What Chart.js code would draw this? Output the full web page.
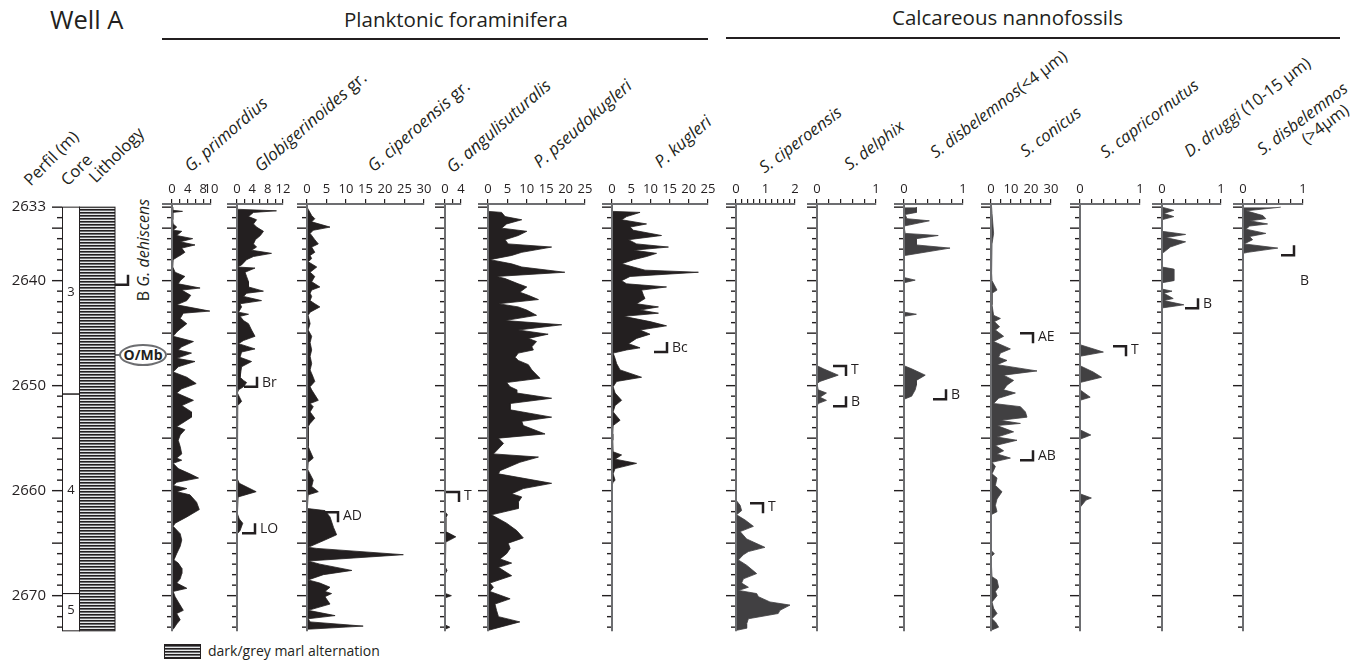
<!DOCTYPE html>
<html>
<head>
<meta charset="utf-8">
<script src="https://cdn.jsdelivr.net/npm/chart.js@4.4.0/dist/chart.umd.min.js"></script>
<style>
  body { margin: 0; background: #fff; }
  #page { position: relative; width: 1360px; height: 664px; overflow: hidden; font-family: 'Open Sans', sans-serif; color: #231f20; }
  #page canvas { position: absolute; }
  .t { position: absolute; white-space: nowrap; }
  .rh { position: absolute; white-space: nowrap; font-size: 17px; line-height: 18px; transform-origin: 0 14px; transform: rotate(-41deg); }
  .rh.nn { font-size: 16.5px; transform: rotate(-37deg); }
  .rh i { font-style: italic; }
  .rule { position: absolute; height: 0; border-top: 2px solid #231f20; }
</style>
</head>
<body>
<div id="page">
  <div class="t" style="left:50px;top:2px;font-size:25.5px;">Well A</div>
  <div class="t" style="left:344px;top:5px;font-size:20.5px;">Planktonic foraminifera</div>
  <div class="rule" style="left:162px;top:38px;width:546px;"></div>
  <div class="t" style="left:892px;top:3px;font-size:20.5px;">Calcareous nannofossils</div>
  <div class="rule" style="left:726px;top:37px;width:614px;"></div>

  <div class="rh" style="left:30px;top:172px;font-size:16.5px;transform:rotate(-45deg);">Perfil (m)</div>
  <div class="rh" style="left:67px;top:172px;font-size:16.5px;transform:rotate(-45deg);">Core</div>
  <div class="rh" style="left:95px;top:169px;font-size:16.5px;transform:rotate(-45deg);">Lithology</div>

  <div class="rh" style="left:190px;top:158px;"><i>G. primordius</i></div>
  <div class="rh" style="left:260px;top:158px;"><i>Globigerinoides</i> gr.</div>
  <div class="rh" style="left:373px;top:158px;"><i>G. ciperoensis</i> gr.</div>
  <div class="rh" style="left:452px;top:159px;"><i>G. angulisuturalis</i></div>
  <div class="rh" style="left:539px;top:154px;"><i>P. pseudokugleri</i></div>
  <div class="rh" style="left:660px;top:154px;"><i>P. kugleri</i></div>
  <div class="rh nn" style="left:764px;top:159px;"><i>S. ciperoensis</i></div>
  <div class="rh nn" style="left:849px;top:156px;"><i>S. delphix</i></div>
  <div class="rh nn" style="left:935px;top:144px;"><i>S. disbelemnos</i>(&lt;4 µm)</div>
  <div class="rh nn" style="left:1025px;top:143px;"><i>S. conicus</i></div>
  <div class="rh nn" style="left:1105px;top:144px;"><i>S. capricornutus</i></div>
  <div class="rh nn" style="left:1189px;top:143px;"><i>D. druggi</i> (10-15 µm)</div>
  <div class="rh nn" style="left:1262px;top:141px;"><i>S. disbelemnos</i><br><span style="display:inline-block;margin-left:42px;">(&gt;4µm)</span></div>

  <div class="t" style="left:143px;top:250px;font-size:16px;transform:translate(-50%,-50%) rotate(-90deg);">B <i>G. dehiscens</i></div>
  <div style="position:absolute;left:115px;top:354px;width:5px;border-top:2px solid #6d6e71;"></div>
  <div class="t" style="left:119px;top:344px;width:44px;height:18px;border:2px solid #6d6e71;border-radius:50%;font-size:14px;font-weight:bold;line-height:18px;text-align:center;">O/Mb</div>

  <div style="position:absolute;left:164px;top:644px;width:35px;height:13px;border:1px solid #231f20;background:repeating-linear-gradient(to bottom,#231f20 0px,#231f20 1px,#6d6e71 1px,#6d6e71 2px,#e6e7e8 2px,#e6e7e8 3px);"></div>
  <div class="t" style="left:208px;top:641px;font-size:14px;">dark/grey marl alternation</div>
</div>
<script>
// depth axis (m)
const depthLabels = [2633, 2640, 2650, 2660, 2670];
const coreNames = ['3', '4', '5'];
const coreTop = [2633.0, 2650.8, 2669.8];
const coreBase = [2650.8, 2669.8, 2673.35];
const coreLabelDepth = [2641.1, 2660.0, 2671.4];

// [depth (m), value] pairs
const primordius = [[2633.0,0],[2633.3,0.2],[2633.4,2.7],[2633.5,0.2],[2634.2,0.2],[2634.6,0.3],[2634.9,1.2],[2635.2,0.3],[2635.3,2.5],[2635.7,1.2],[2636.0,5.3],[2636.3,2.1],[2636.6,5.9],[2636.9,2.5],[2637.3,3.3],[2637.6,2.1],[2637.7,1.6],[2638.0,0.3],[2638.7,0.2],[2639.2,0.8],[2639.6,3.3],[2640.0,2.1],[2640.3,1.6],[2640.7,7.2],[2640.9,2.5],[2641.4,4.8],[2641.9,3.8],[2642.3,1.2],[2642.9,9.7],[2643.1,2.9],[2643.6,2.1],[2644.1,3.8],[2644.6,2.1],[2644.9,1.2],[2645.3,0.3],[2645.8,5.5],[2646.3,2.5],[2646.6,1.6],[2646.9,5.0],[2647.4,1.2],[2647.7,5.9],[2648.2,1.6],[2648.7,0.3],[2649.2,3.8],[2649.8,6.2],[2650.3,2.5],[2650.7,1.2],[2651.4,5.5],[2651.9,2.5],[2652.5,5.0],[2653.0,5.0],[2653.6,2.5],[2653.9,1.2],[2654.2,3.3],[2654.7,2.1],[2655.2,1.6],[2655.8,2.1],[2656.5,2.5],[2656.9,1.2],[2657.1,2.5],[2657.4,0.3],[2657.9,1.6],[2658.4,4.6],[2658.8,6.8],[2659.2,1.2],[2659.5,0.3],[2659.8,3.8],[2660.1,1.2],[2660.4,4.6],[2661.1,6.3],[2661.8,7.0],[2662.5,3.8],[2663.1,0.8],[2663.4,0.3],[2664.1,2.1],[2664.7,2.5],[2665.3,2.1],[2666.0,1.2],[2666.6,0.5],[2666.9,1.6],[2667.4,2.5],[2667.9,2.5],[2668.4,2.1],[2668.8,1.2],[2669.3,3.8],[2669.6,0.3],[2670.1,0.8],[2670.6,1.6],[2671.4,2.9],[2671.7,1.2],[2672.3,2.1],[2672.7,1.2],[2673.1,0.5],[2673.3,0]];
const globigerinoides = [[2633.2,0],[2633.35,10.3],[2633.5,4.3],[2633.9,3.0],[2634.2,5.1],[2634.6,4.3],[2634.9,5.1],[2635.3,6.9],[2635.7,6.1],[2636.1,4.8],[2636.5,4.3],[2636.8,5.1],[2637.1,3.8],[2637.4,9.0],[2637.7,4.3],[2638.0,2.5],[2638.5,1.2],[2638.7,0.1],[2638.8,4.7],[2639.2,2.1],[2639.6,2.5],[2640.1,3.0],[2640.6,3.0],[2641.0,6.9],[2641.2,2.5],[2641.5,1.7],[2641.9,6.4],[2642.2,0.8],[2642.5,1.2],[2643.0,0.4],[2643.2,3.0],[2643.4,0.8],[2643.8,1.7],[2644.1,3.0],[2644.7,3.8],[2645.3,4.7],[2645.7,1.7],[2646.0,0.4],[2646.5,4.7],[2646.8,1.2],[2647.3,0.8],[2647.7,3.8],[2648.2,1.2],[2648.7,1.0],[2649.2,0.8],[2649.5,1.7],[2649.7,2.5],[2650.1,1.7],[2650.4,0.4],[2650.7,0.1],[2651.2,0.8],[2651.5,1.2],[2651.9,0.2],[2652.3,0.1],[2658.9,0.1],[2659.3,0.6],[2660.1,5.0],[2660.6,0.3],[2662.2,0.1],[2662.7,0.6],[2663.1,1.5],[2663.8,0.8],[2664.1,0.1],[2673.3,0]];
const ciperoensisGr = [[2633.0,0],[2633.2,0.3],[2633.8,1.2],[2634.1,2.0],[2634.4,1.2],[2634.9,5.9],[2635.2,1.6],[2635.5,0.8],[2636.1,2.0],[2636.5,2.9],[2636.8,1.2],[2637.3,2.0],[2637.6,0.8],[2637.9,1.2],[2638.2,0.3],[2638.7,2.5],[2639.2,0.8],[2639.6,2.0],[2640.1,1.2],[2640.6,3.3],[2640.9,1.2],[2641.2,0.8],[2641.5,1.2],[2641.9,0.8],[2642.2,2.0],[2642.5,3.3],[2643.0,0.8],[2643.3,0.3],[2644.1,0.8],[2644.7,0.3],[2645.3,1.2],[2645.9,0.8],[2646.6,1.2],[2647.2,0.8],[2647.9,1.2],[2648.5,0.8],[2649.2,1.6],[2649.6,2.0],[2650.1,0.8],[2650.4,1.2],[2651.4,2.9],[2651.7,0.8],[2652.0,1.6],[2652.5,0.8],[2653.1,2.0],[2653.6,0.8],[2653.9,0.3],[2655.8,0.3],[2656.9,1.6],[2657.3,0.3],[2658.0,0.2],[2659.0,1.6],[2659.6,1.2],[2660.1,2.9],[2660.4,0.3],[2661.7,0.1],[2661.9,4.6],[2662.5,5.9],[2663.5,6.8],[2664.2,7.6],[2664.7,4.6],[2665.4,0.3],[2665.5,2.5],[2666.1,24.7],[2666.7,0.3],[2667.0,3.3],[2667.6,11.5],[2668.0,4.2],[2668.5,0.3],[2668.8,3.3],[2669.2,5.9],[2669.6,4.6],[2669.8,6.3],[2670.1,4.6],[2670.8,5.9],[2671.4,0.3],[2671.9,7.2],[2672.2,0.3],[2672.5,0.8],[2672.9,14.4],[2673.2,0.1]];
const angulisuturalis = [[2633.0,0],[2662.0,0],[2662.3,0.6],[2662.6,0.2],[2663.9,0.2],[2664.4,2.7],[2664.9,0.2],[2667.3,0.1],[2667.6,0.5],[2667.9,0.1],[2669.8,0.1],[2670.0,1.6],[2670.2,0.1],[2672.8,0.1],[2673.0,1.2],[2673.2,0]];
const pseudokugleri = [[2633.4,0],[2633.5,3.5],[2633.9,4.4],[2634.2,8.7],[2634.6,4.8],[2635.0,3.5],[2635.3,10],[2635.7,7.8],[2636.1,4.4],[2636.5,5.2],[2636.8,16.4],[2637.3,8.7],[2637.6,6.1],[2638.0,0.5],[2638.4,6.1],[2638.7,8.7],[2639.2,19.8],[2639.6,2.2],[2639.8,4.4],[2640.3,7.8],[2640.6,10],[2641.1,8.2],[2641.4,10.4],[2641.8,13],[2642.2,2.7],[2642.5,7.8],[2642.8,10],[2643.3,12.5],[2643.8,4.4],[2644.2,19],[2644.7,7.8],[2645.1,15.5],[2645.5,10.4],[2645.8,12.5],[2646.3,11.3],[2646.6,11.7],[2646.9,7.8],[2647.3,7],[2647.6,7.8],[2648.0,10.4],[2648.5,11.3],[2649.3,13.4],[2649.7,4.8],[2650.1,5.7],[2650.4,7.4],[2650.7,7.4],[2651.2,16.4],[2651.7,5.7],[2652.3,5.7],[2653.0,16.4],[2653.4,8.7],[2653.8,9.1],[2654.6,14.7],[2655.0,2.7],[2655.5,4.0],[2656.2,2.2],[2656.5,1.4],[2656.8,13],[2657.3,8.2],[2658.1,3.1],[2658.4,2.7],[2659.3,16.4],[2659.8,9.1],[2660.3,6.1],[2660.6,8.7],[2661.1,7.8],[2661.7,7.8],[2662.3,0.9],[2663.1,4.8],[2663.8,7.4],[2664.5,9.1],[2665.0,5.2],[2665.5,5.7],[2666.0,4.8],[2666.5,3.1],[2666.9,6.1],[2667.3,2.7],[2668.1,6.1],[2668.8,0.5],[2669.2,1.4],[2669.6,0.5],[2670.3,5.7],[2670.8,1.8],[2671.4,2.2],[2672.0,2.7],[2672.5,8.2],[2673.0,3.1],[2673.3,0.1]];
const kugleri = [[2633.4,0],[2633.5,7.3],[2633.9,3.8],[2634.2,2.5],[2634.6,9],[2634.9,4.7],[2635.2,5.6],[2635.7,12.9],[2636.1,4.3],[2636.5,6.4],[2636.8,14.7],[2637.1,5.6],[2637.4,11.6],[2637.7,9],[2638.0,5.6],[2638.4,2.5],[2639.0,8.6],[2639.2,22.5],[2639.6,4.7],[2640.0,2.5],[2640.3,3.8],[2640.6,14.2],[2640.9,7.7],[2641.4,8.2],[2641.7,8.6],[2642.2,6.4],[2642.5,12.1],[2642.8,7.3],[2643.1,12.1],[2643.4,3],[2643.9,9.9],[2644.3,14.2],[2644.7,7.3],[2645.1,9.9],[2645.5,6.4],[2646.0,4.3],[2646.4,7.3],[2646.6,3.8],[2646.9,0.3],[2647.4,0.8],[2647.9,1.2],[2648.5,2.1],[2649.2,7.7],[2649.6,1.2],[2650.1,0.3],[2650.7,0.8],[2651.4,2.5],[2651.9,0.8],[2652.5,0.3],[2653.3,2.1],[2653.8,0.3],[2654.6,0.2],[2655.2,0.2],[2656.3,0.3],[2656.6,2.5],[2657.0,0.8],[2657.4,6.4],[2657.9,0.8],[2658.4,0.3],[2659.0,0.8],[2659.2,0.3],[2659.5,0]];
const sCiperoensis = [[2660.9,0],[2661.4,0.14],[2661.9,0.19],[2662.3,0.02],[2662.8,0.31],[2663.4,0.59],[2663.9,0.14],[2664.6,0.36],[2665.4,0.98],[2665.8,0.42],[2666.1,0.25],[2666.6,0.08],[2667.1,0.36],[2667.9,0.7],[2668.4,0.25],[2668.8,0.19],[2669.2,0.42],[2669.5,0.08],[2669.8,0.7],[2670.1,0.76],[2670.6,1.15],[2670.9,1.83],[2671.4,1.49],[2671.7,1.43],[2672.2,0.42],[2672.7,0.36],[2673.1,0.36],[2673.3,0.02]];
const delphix = [[2648.1,0],[2648.4,0.11],[2649.0,0.36],[2649.6,0.05],[2649.8,0],[2650.4,0.02],[2650.7,0.16],[2651.1,0.05],[2651.4,0.16],[2651.7,0.02],[2652.0,0]];
const disbelemnosSmall = [[2633.0,0.21],[2633.5,0.21],[2633.7,0.02],[2634.1,0.05],[2634.3,0.43],[2634.8,0],[2635.5,0.02],[2635.7,0.58],[2636.0,0.21],[2636.6,0.21],[2636.9,0.78],[2637.6,0.02],[2637.7,0],[2639.7,0],[2639.95,0.19],[2640.2,0],[2643.0,0],[2643.2,0.21],[2643.4,0],[2648.1,0],[2648.4,0.13],[2649.0,0.36],[2649.5,0.21],[2649.95,0.21],[2650.4,0.19],[2651.0,0.13],[2651.3,0]];
const conicus = [[2633.0,0.3],[2633.6,0.5],[2635.5,1.3],[2636.5,0.5],[2639.3,0.3],[2640.0,0.5],[2640.9,3],[2641.2,0.5],[2642.3,0.5],[2643.3,1.3],[2643.6,4.7],[2643.9,1.7],[2644.4,4.3],[2644.7,2.2],[2645.3,6.3],[2645.8,1.3],[2646.5,9.7],[2646.9,4.7],[2647.3,3.8],[2647.6,8],[2648.0,3],[2648.6,23],[2649.0,6.3],[2649.5,11.3],[2649.95,8],[2650.4,6.3],[2650.7,12.2],[2651.2,3.8],[2651.7,1.3],[2652.0,14.7],[2652.5,17.2],[2653.0,18],[2653.3,4.7],[2653.6,14.7],[2653.8,3],[2654.4,11.3],[2654.9,3],[2655.2,13],[2655.7,2.2],[2656.2,6.3],[2656.5,3],[2656.9,9.7],[2657.3,0.5],[2657.7,2.2],[2658.4,0.5],[2658.8,3],[2659.5,2.2],[2660.1,5.5],[2660.8,3],[2661.4,2.2],[2662.0,3],[2662.3,0],[2665.7,0],[2666.0,1.7],[2666.3,0],[2668.2,0.5],[2668.5,3],[2669.2,3.8],[2669.6,2.2],[2670.0,3],[2670.6,0.5],[2671.2,1.3],[2671.7,3],[2672.2,0.5],[2672.5,2.2],[2673.0,3.8],[2673.3,0]];
const capricornutus = [[2646.1,0],[2646.8,0.39],[2647.2,0],[2648.1,0],[2648.7,0.22],[2649.2,0.36],[2649.7,0],[2650.4,0],[2651.1,0.17],[2651.4,0],[2654.2,0],[2654.7,0.18],[2655.1,0],[2660.3,0],[2660.7,0.19],[2660.9,0.1],[2661.6,0]];
const druggi = [[2633.0,0],[2633.3,0.2],[2633.6,0.03],[2633.9,0.2],[2634.2,0],[2635.3,0],[2635.6,0.4],[2635.9,0.06],[2636.3,0.4],[2636.8,0.14],[2637.3,0.03],[2637.4,0],[2638.7,0],[2638.9,0.2],[2640.0,0.2],[2640.2,0],[2640.8,0],[2641.0,0.17],[2641.2,0.03],[2641.7,0.19],[2641.9,0.03],[2642.3,0.37],[2642.6,0]];
const disbelemnosLarge = [[2633.0,0.63],[2633.35,0.05],[2633.8,0.33],[2634.1,0.38],[2634.3,0.11],[2634.6,0.41],[2634.8,0.11],[2635.1,0.05],[2635.5,0.38],[2635.8,0.11],[2636.1,0.16],[2636.5,0.02],[2636.9,0.58],[2637.3,0.08],[2637.4,0]];

// top axis ticks and the ones that carry a label
const ticks10 = [0, 2, 4, 6, 8, 10], labels10 = [0, 4, 8, 10];
const ticks12 = [0, 2, 4, 6, 8, 10, 12], labels12 = [0, 4, 8, 12];
const ticks30 = [0, 5, 10, 15, 20, 25, 30], labels30 = [0, 5, 10, 15, 20, 25, 30];
const ticks4 = [0, 2, 4], labels4 = [0, 4];
const ticks25 = [0, 5, 10, 15, 20, 25], labels25 = [0, 5, 10, 15, 20, 25];
const ticks2 = [0, 0.2, 0.4, 0.6, 0.8, 1, 1.2, 1.4, 1.6, 1.8, 2], labels2 = [0, 1, 2];
const ticks1 = [0, 0.2, 0.4, 0.6, 0.8, 1], labels1 = [0, 1];
const labelsConicus = [0, 10, 20, 30];

const DEPTH_MIN = 2632.7, DEPTH_MAX = 2673.4;
const FORAM = '#231f20', NANNO = '#414042';

Chart.defaults.font.family = "'Open Sans', sans-serif";
Chart.defaults.font.size = 13;
Chart.defaults.color = '#231f20';

// depth ticks, axis line and event brackets
const wellAxes = {
  id: 'wellAxes',
  afterDraw(chart, args, opts) {
    const { ctx, chartArea: a, scales: { y } } = chart;
    ctx.save();
    ctx.strokeStyle = '#231f20';
    ctx.lineWidth = 1.4;
    for (let d = Math.ceil(y.min); d <= Math.floor(y.max); d++) {
      const py = y.getPixelForValue(d);
      const len = (d % 5 === 0 || d === 2633) ? 10 : 5;
      ctx.beginPath(); ctx.moveTo(a.left - len, py); ctx.lineTo(a.left, py); ctx.stroke();
    }
    if (opts.axisLine) {
      ctx.strokeStyle = '#6d6e71';
      ctx.lineWidth = 2;
      ctx.beginPath(); ctx.moveTo(a.left, a.top - 1); ctx.lineTo(a.left, a.bottom); ctx.stroke();
      ctx.beginPath(); ctx.moveTo(a.left - 10, a.top); ctx.lineTo(a.left, a.top); ctx.stroke();
    }
    ctx.strokeStyle = '#231f20';
    ctx.fillStyle = '#231f20';
    ctx.lineWidth = 2.5;
    ctx.font = "14px 'Open Sans', sans-serif";
    ctx.textBaseline = 'middle';
    (opts.markers || []).forEach(m => {
      const x = a.left + m.dx, py = y.getPixelForValue(m.depth);
      if (m.kind === 'T') {
        ctx.beginPath(); ctx.moveTo(x - 13, py); ctx.lineTo(x, py); ctx.lineTo(x, py + 10); ctx.stroke();
        if (m.label) ctx.fillText(m.label, x + 5, py + 4);
      } else if (m.kind === 'B') {
        ctx.beginPath(); ctx.moveTo(x - 13, py); ctx.lineTo(x, py); ctx.lineTo(x, py - 10); ctx.stroke();
        if (m.label) ctx.fillText(m.label, x + 5, py - 4);
      } else {
        ctx.fillText(m.label, x, py);
      }
    });
    ctx.restore();
  }
};

// core boxes and lithology column
const coreColumn = {
  id: 'coreColumn',
  afterDraw(chart) {
    const { ctx, chartArea: a, scales: { y } } = chart;
    const split = a.left + 17;
    const pc = document.createElement('canvas');
    pc.width = 1; pc.height = 3;
    const pctx = pc.getContext('2d');
    ['#231f20', '#6d6e71', '#e6e7e8'].forEach((c, i) => { pctx.fillStyle = c; pctx.fillRect(0, i, 1, 1); });
    ctx.save();
    const top = y.getPixelForValue(coreTop[0]);
    const bot = y.getPixelForValue(coreBase[coreBase.length - 1]);
    ctx.fillStyle = ctx.createPattern(pc, 'repeat');
    ctx.fillRect(split, top, a.right - split, bot - top);
    ctx.strokeStyle = '#231f20';
    ctx.lineWidth = 1;
    ctx.strokeRect(split + 0.5, top, a.right - split - 0.5, bot - top);
    ctx.fillStyle = '#231f20';
    ctx.font = "13px 'Open Sans', sans-serif";
    ctx.textAlign = 'center';
    ctx.textBaseline = 'middle';
    coreNames.forEach((n, i) => {
      const t = y.getPixelForValue(coreTop[i]), b = y.getPixelForValue(coreBase[i]);
      ctx.strokeRect(a.left + 0.5, t, 17, b - t);
      ctx.fillText(n, a.left + 9, y.getPixelForValue(coreLabelDepth[i]));
    });
    ctx.restore();
  }
};

const page = document.getElementById('page');

function addCanvas(left, width) {
  const cv = document.createElement('canvas');
  cv.width = width; cv.height = 500;
  cv.style.left = left + 'px';
  cv.style.top = '170px';
  page.appendChild(cv);
  return cv;
}

// depth scale + core + lithology
new Chart(addCanvas(0, 140), {
  type: 'line',
  data: { datasets: [] },
  options: {
    responsive: false, animation: false, events: [],
    layout: { padding: { left: 0, right: 25, top: 34, bottom: 38.65 } },
    plugins: {
      legend: { display: false }, tooltip: { enabled: false },
      wellAxes: { axisLine: false, markers: [{ depth: 2640.4, kind: 'B', dx: 66 }] }
    },
    scales: {
      x: { type: 'linear', display: false, min: 0, max: 1 },
      y: {
        type: 'linear', position: 'left', reverse: true, min: DEPTH_MIN, max: DEPTH_MAX,
        afterBuildTicks: s => { s.ticks = depthLabels.map(v => ({ value: v })); },
        afterFit: s => { s.width = 62; },
        ticks: { padding: 16, font: { size: 15 }, autoSkip: false, callback: v => String(v) },
        grid: { display: false, drawTicks: false },
        border: { display: false }
      }
    }
  },
  plugins: [coreColumn, wellAxes]
});

const panels = [
  { data: primordius, zero: 172, end: 211, max: 10, ticks: ticks10, labels: labels10, color: FORAM, markers: [] },
  { data: globigerinoides, zero: 237, end: 283, max: 12, ticks: ticks12, labels: labels12, color: FORAM,
    markers: [{ depth: 2650.1, kind: 'B', dx: 20, label: 'Br' }, { depth: 2664.05, kind: 'B', dx: 18, label: 'LO' }] },
  { data: ciperoensisGr, zero: 307, end: 424, max: 30, ticks: ticks30, labels: labels30, color: FORAM,
    markers: [{ depth: 2662.05, kind: 'T', dx: 31, label: 'AD' }] },
  { data: angulisuturalis, zero: 445, end: 461, max: 4, ticks: ticks4, labels: labels4, color: FORAM,
    markers: [{ depth: 2660.14, kind: 'T', dx: 14, label: 'T' }] },
  { data: pseudokugleri, zero: 488, end: 585, max: 25, ticks: ticks25, labels: labels25, color: FORAM, markers: [] },
  { data: kugleri, zero: 612, end: 708, max: 25, ticks: ticks25, labels: labels25, color: FORAM,
    markers: [{ depth: 2646.8, kind: 'B', dx: 55, label: 'Bc' }] },
  { data: sCiperoensis, zero: 736, end: 795, max: 2, ticks: ticks2, labels: labels2, color: NANNO,
    markers: [{ depth: 2661.19, kind: 'T', dx: 27, label: 'T' }] },
  { data: delphix, zero: 817, end: 876, max: 1, ticks: ticks1, labels: labels1, color: NANNO,
    markers: [{ depth: 2648.14, kind: 'T', dx: 29, label: 'T' }, { depth: 2651.95, kind: 'B', dx: 29, label: 'B' }] },
  { data: disbelemnosSmall, zero: 904, end: 963, max: 1, ticks: ticks1, labels: labels1, color: NANNO,
    markers: [{ depth: 2651.29, kind: 'B', dx: 42, label: 'B' }] },
  { data: conicus, zero: 991, end: 1051, max: 30, ticks: ticks30, labels: labelsConicus, color: NANNO,
    markers: [{ depth: 2645.0, kind: 'T', dx: 42, label: 'AE' }, { depth: 2657.1, kind: 'B', dx: 42, label: 'AB' }] },
  { data: capricornutus, zero: 1080, end: 1140, max: 1, ticks: ticks1, labels: labels1, color: NANNO,
    markers: [{ depth: 2646.24, kind: 'T', dx: 46, label: 'T' }] },
  { data: druggi, zero: 1162, end: 1221, max: 1, ticks: ticks1, labels: labels1, color: NANNO,
    markers: [{ depth: 2642.62, kind: 'B', dx: 36, label: 'B' }] },
  { data: disbelemnosLarge, zero: 1243, end: 1303, max: 1, ticks: ticks1, labels: labels1, color: NANNO,
    markers: [{ depth: 2637.57, kind: 'B', dx: 51 }, { depth: 2640.05, kind: null, dx: 57, label: 'B' }] }
];

panels.forEach(p => {
  const cv = addCanvas(p.zero - 16, p.end - p.zero + 56);
  new Chart(cv, {
    type: 'line',
    data: {
      datasets: [{
        data: p.data.map(([d, v]) => ({ x: v, y: d })),
        fill: 'origin',
        backgroundColor: p.color,
        borderColor: p.color,
        borderWidth: 0.8,
        pointRadius: 0,
        tension: 0,
        clip: false
      }]
    },
    options: {
      indexAxis: 'y',
      responsive: false, animation: false, events: [],
      layout: { padding: { left: 16, right: 40, top: 8, bottom: 38.65 } },
      plugins: {
        legend: { display: false }, tooltip: { enabled: false },
        wellAxes: { axisLine: true, markers: p.markers }
      },
      scales: {
        x: {
          type: 'linear', position: 'top', min: 0, max: p.max,
          afterBuildTicks: s => { s.ticks = p.ticks.map(v => ({ value: v })); },
          afterFit: s => { s.height = 26; },
          ticks: { autoSkip: false, maxRotation: 0, minRotation: 0, padding: 2,
                   callback: v => p.labels.includes(v) ? String(v) : '' },
          grid: { drawOnChartArea: false, drawTicks: true, tickLength: 5, color: '#231f20', lineWidth: 1.2 },
          border: { display: true, color: '#6d6e71', width: 2 }
        },
        y: { type: 'linear', display: false, reverse: true, min: DEPTH_MIN, max: DEPTH_MAX }
      }
    },
    plugins: [wellAxes]
  });
});
</script>
</body>
</html>
